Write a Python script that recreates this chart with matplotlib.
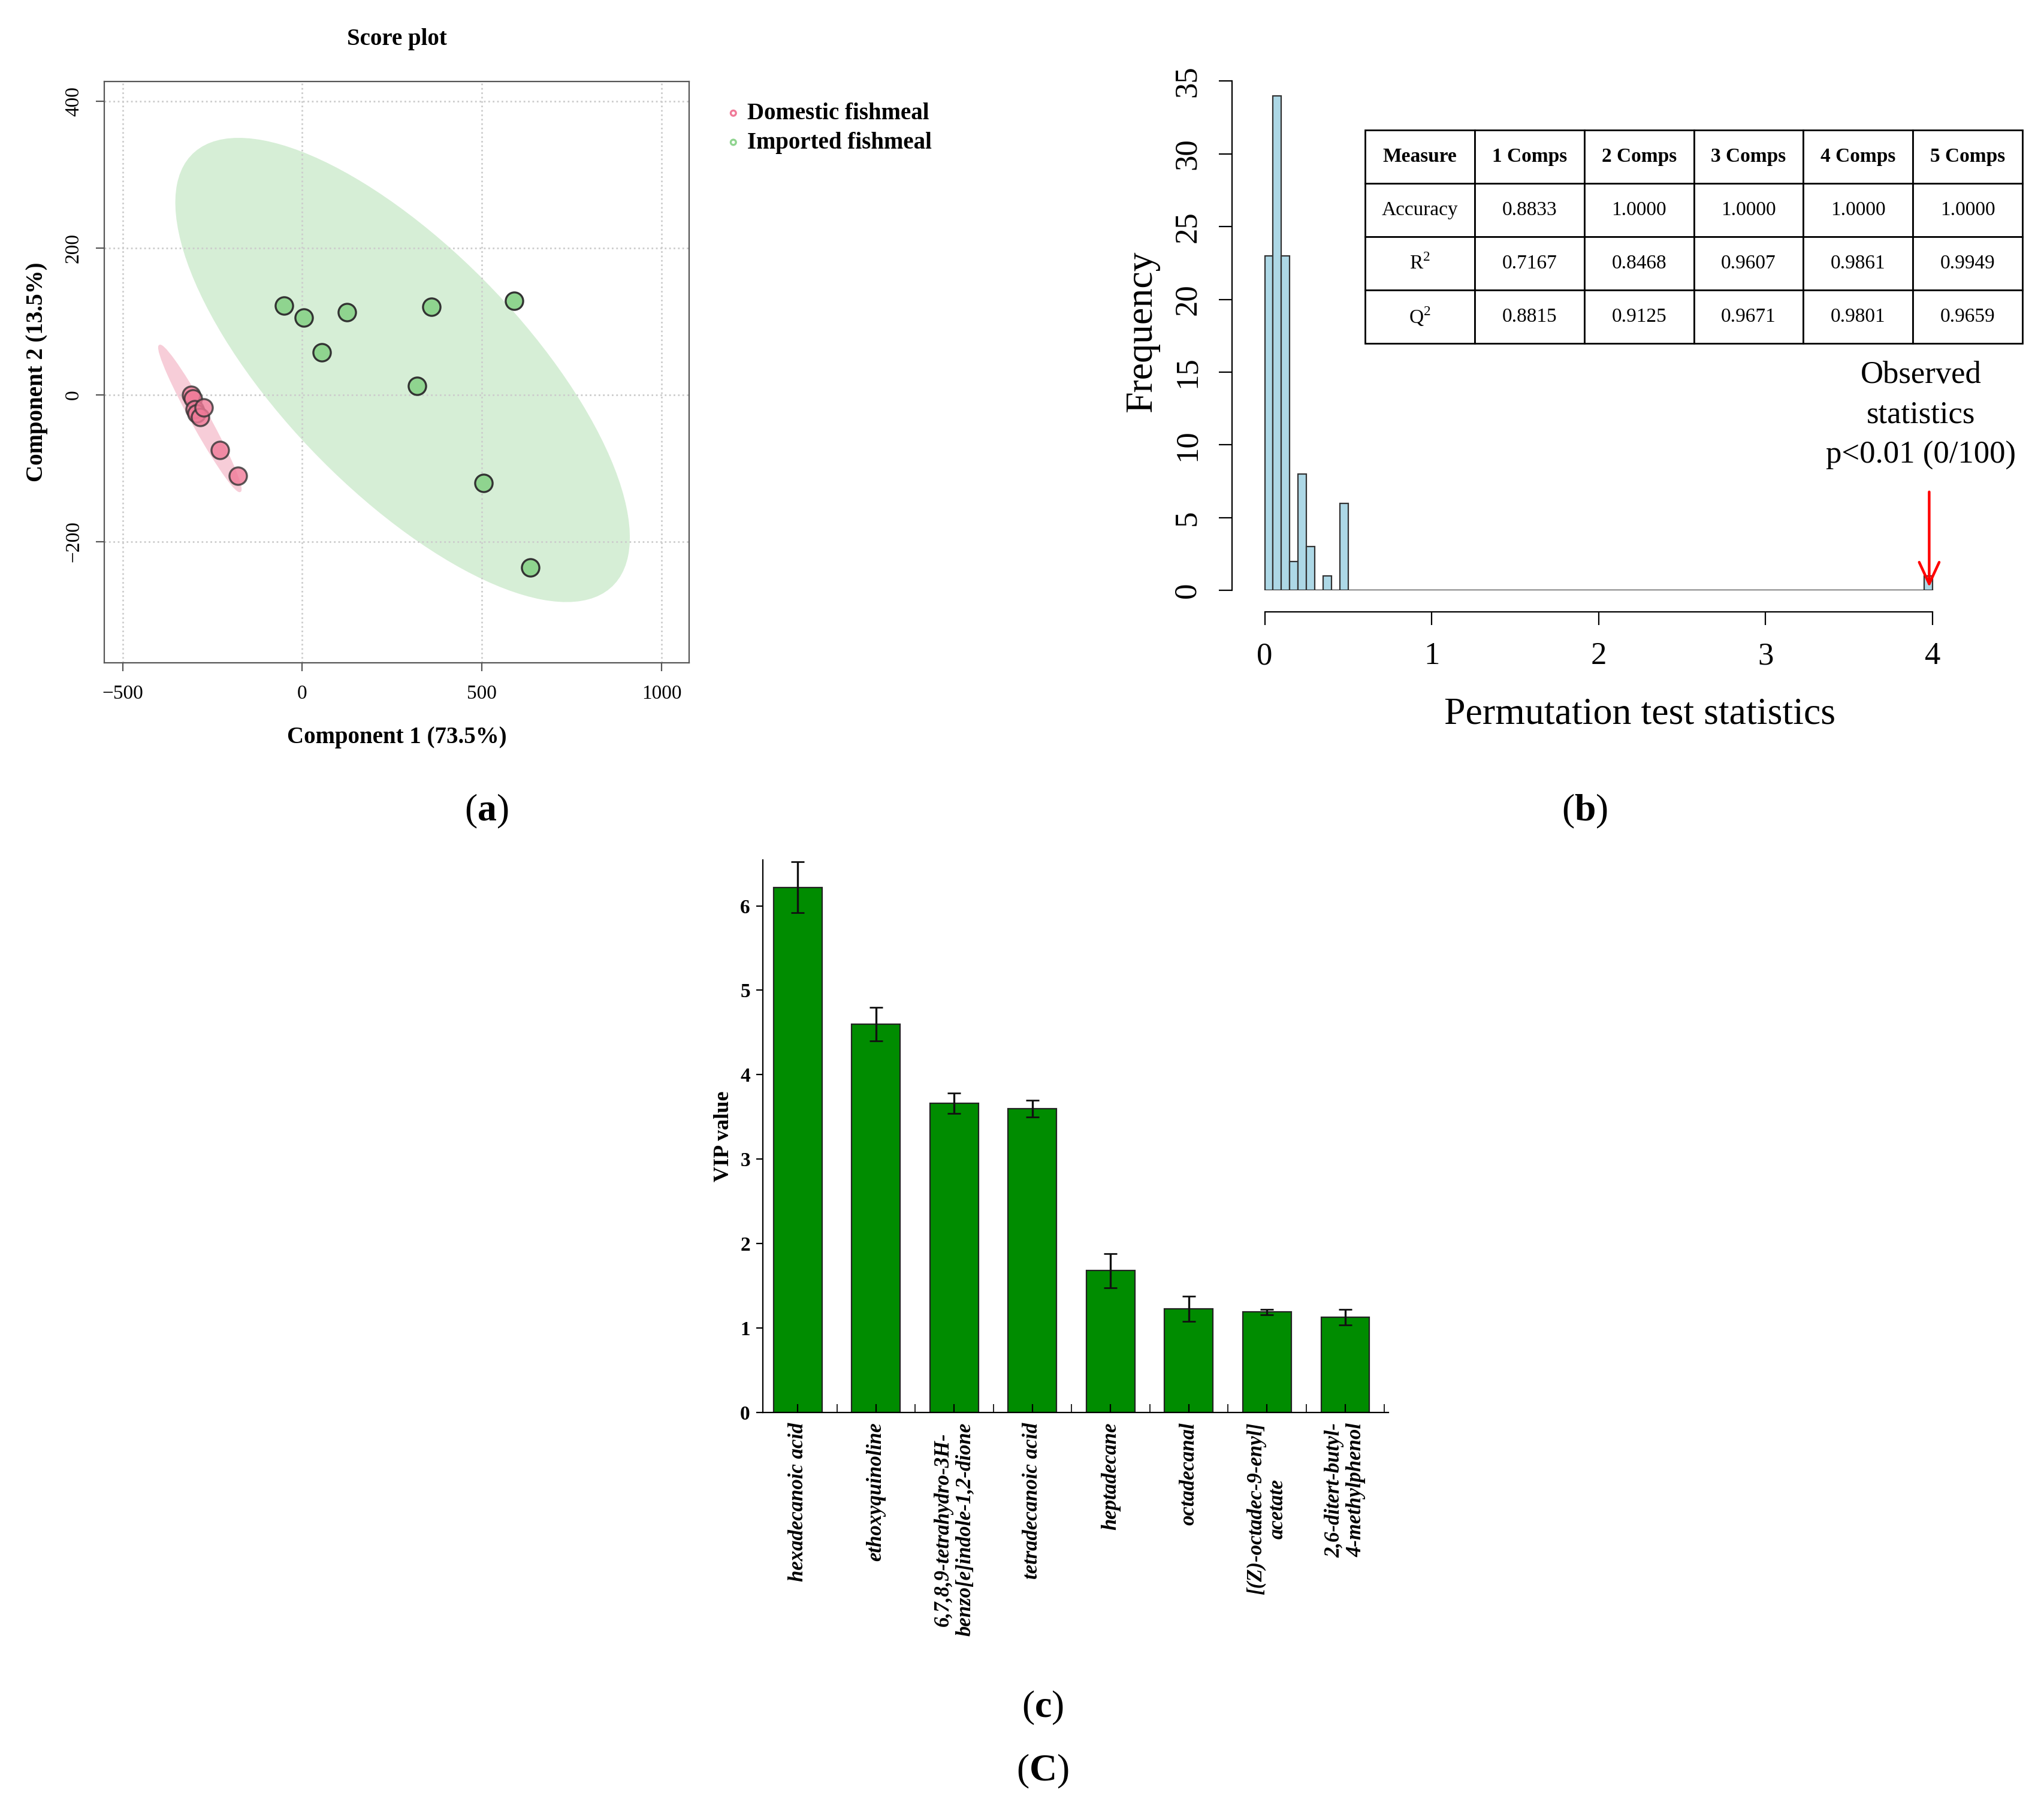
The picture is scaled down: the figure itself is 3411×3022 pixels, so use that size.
import matplotlib.pyplot as plt
from matplotlib.patches import Ellipse

plt.rcParams['font.family'] = 'Liberation Serif'
plt.rcParams['mathtext.fontset'] = 'custom'
plt.rcParams['mathtext.rm'] = 'Liberation Serif'
plt.rcParams['mathtext.bf'] = 'Liberation Serif:bold'

# panel a: score plot
DOMESTIC_X = [-310, -305, -300, -295, -285, -275, -230, -180]
DOMESTIC_Y = [0, -5, -20, -25, -30, -17, -75, -110]
IMPORTED_X = [-50, 5, 55, 125, 320, 360, 590, 505, 635]
IMPORTED_Y = [122, 105, 58, 113, 12, 120, 128, -120, -235]

# panel b: permutation histogram
BIN_LEFT = [0.0, 0.05, 0.1, 0.15, 0.2, 0.25, 0.3, 0.35, 0.4, 0.45, 3.95]
BIN_COUNT = [23, 34, 23, 2, 8, 3, 0, 1, 0, 6, 1]
TABLE_HEADER = ['Measure', '1 Comps', '2 Comps', '3 Comps', '4 Comps', '5 Comps']
TABLE_ROWS = [
    ['Accuracy', '0.8833', '1.0000', '1.0000', '1.0000', '1.0000'],
    ['R$^2$', '0.7167', '0.8468', '0.9607', '0.9861', '0.9949'],
    ['Q$^2$', '0.8815', '0.9125', '0.9671', '0.9801', '0.9659'],
]

# panel c: VIP values
COMPOUNDS = ['hexadecanoic acid', 'ethoxyquinoline',
             '6,7,8,9-tetrahydro-3H-\nbenzo[e]indole-1,2-dione', 'tetradecanoic acid',
             'heptadecane', 'octadecanal', '[(Z)-octadec-9-enyl]\nacetate',
             '2,6-ditert-butyl-\n4-methylphenol']
VIP = [6.22, 4.6, 3.66, 3.6, 1.68, 1.23, 1.19, 1.13]
VIP_ERR = [0.3, 0.2, 0.12, 0.1, 0.2, 0.15, 0.03, 0.09]

fig = plt.figure(figsize=(17.06, 15.11), dpi=200)

# ---- (a)
ax = fig.add_axes([0.051, 0.634, 0.286, 0.321])
ax.add_patch(Ellipse((279, 34), 1349, 406, angle=-22, color='#d6eed6', zorder=0))
ax.add_patch(Ellipse((-285, -32), 300, 36, angle=-41, color='#f7cdd8', zorder=0))
ax.scatter(DOMESTIC_X, DOMESTIC_Y, s=110, c='#f07a98', edgecolors='#333333', linewidths=1.2,
           alpha=0.8, zorder=3, label='Domestic fishmeal')
ax.scatter(IMPORTED_X, IMPORTED_Y, s=110, c='#8fd48f', edgecolors='#333333', linewidths=1.2,
           zorder=3, label='Imported fishmeal')
ax.set_xlim(-551, 1076)
ax.set_ylim(-365, 427)
ax.set_xticks([-500, 0, 500, 1000])
ax.set_yticks([-200, 0, 200, 400])
ax.grid(color='#cccccc', linestyle=':', linewidth=1)
ax.tick_params(labelsize=12, direction='out', length=5, color='#555555', pad=8)
plt.setp(ax.get_yticklabels(), rotation=90, va='center')
for s in ax.spines.values():
    s.set_color('#555555')
ax.set_title('Score plot', fontsize=14, fontweight='bold', pad=22)
ax.set_xlabel('Component 1 (73.5%)', fontsize=14, fontweight='bold', labelpad=14)
ax.set_ylabel('Component 2 (13.5%)', fontsize=14, fontweight='bold', labelpad=10)
leg = ax.legend(loc='upper left', bbox_to_anchor=(1.02, 1.0), frameon=False,
                prop={'weight': 'bold', 'size': 14}, markerscale=0.3, handletextpad=0.1,
                handlelength=1.0, labelspacing=0.3)
for h, c in zip(leg.legend_handles, ['#f07a98', '#8fd48f']):
    h.set_facecolor('none')
    h.set_edgecolor(c)
    h.set_alpha(1)

# ---- (b)
bx = fig.add_axes([0.609, 0.674, 0.386, 0.286])
bx.bar(BIN_LEFT, BIN_COUNT, width=0.05, align='edge', color='#add8e6',
       edgecolor='#333333', linewidth=0.8)
bx.plot([0, 4], [0, 0], color='#333333', linewidth=0.8)
bx.set_xlim(-0.117, 4.61)
bx.set_ylim(0, 35.6)
for k in ['top', 'right']:
    bx.spines[k].set_visible(False)
bx.spines['left'].set_position(('outward', 8))
bx.spines['bottom'].set_position(('outward', 13))
bx.spines['left'].set_bounds(0, 35)
bx.spines['bottom'].set_bounds(0, 4)
bx.set_xticks([0, 1, 2, 3, 4])
bx.set_yticks(range(0, 36, 5))
bx.tick_params(labelsize=19, length=8, pad=10)
plt.setp(bx.get_yticklabels(), rotation=90, va='center')
bx.set_xlabel('Permutation test statistics', fontsize=23, labelpad=16)
bx.set_ylabel('Frequency', fontsize=23, labelpad=8)
bx.annotate('', xy=(3.98, 0), xytext=(3.98, 7),
            arrowprops=dict(arrowstyle='->,head_length=1.3,head_width=0.6', color='red', lw=1.6))
bx.text(3.93, 8.3, 'Observed\nstatistics\np<0.01 (0/100)', fontsize=19, ha='center',
        va='bottom', linespacing=1.5)
tb = bx.table(cellText=TABLE_ROWS, colLabels=TABLE_HEADER, cellLoc='center',
              bbox=[0.152, 0.477, 0.833, 0.412])
tb.auto_set_font_size(False)
tb.set_fontsize(12)
for (r, c), cell in tb.get_celld().items():
    cell.set_linewidth(1.0)
    if r == 0:
        cell.get_text().set_fontweight('bold')

# ---- (c)
cx = fig.add_axes([0.373, 0.220, 0.306, 0.305])
xs = list(range(len(VIP)))
cx.bar(xs, VIP, width=0.62, color='#008c00', edgecolor='#222222', linewidth=0.8)
cx.errorbar(xs, VIP, yerr=VIP_ERR, fmt='none', ecolor='#111111', elinewidth=1.2, capsize=4)
cx.set_xlim(-0.45, 7.55)
cx.set_ylim(0, 6.54)
cx.spines['top'].set_visible(False)
cx.spines['right'].set_visible(False)
cx.set_xticks(xs)
cx.set_xticks([x + 0.5 for x in xs], minor=True)
cx.set_xticklabels(COMPOUNDS, rotation=90, fontsize=12.5, fontstyle='italic',
                   fontweight='bold', ha='center', va='top', linespacing=1.1)
cx.tick_params(axis='x', which='both', direction='in', length=5, pad=6)
cx.set_yticks(range(0, 7))
cx.tick_params(axis='y', labelsize=12, direction='out', length=4)
plt.setp(cx.get_yticklabels(), fontweight='bold')
cx.set_ylabel('VIP value', fontsize=13, fontweight='bold')

# panel captions
fig.text(0.238, 0.552, r'($\mathbf{a}$)', fontsize=23, ha='center', va='center')
fig.text(0.775, 0.552, r'($\mathbf{b}$)', fontsize=23, ha='center', va='center')
fig.text(0.510, 0.057, r'($\mathbf{c}$)', fontsize=23, ha='center', va='center')
fig.text(0.510, 0.022, r'($\mathbf{C}$)', fontsize=23, ha='center', va='center')

fig.savefig('out.png', dpi=200, facecolor='white')
